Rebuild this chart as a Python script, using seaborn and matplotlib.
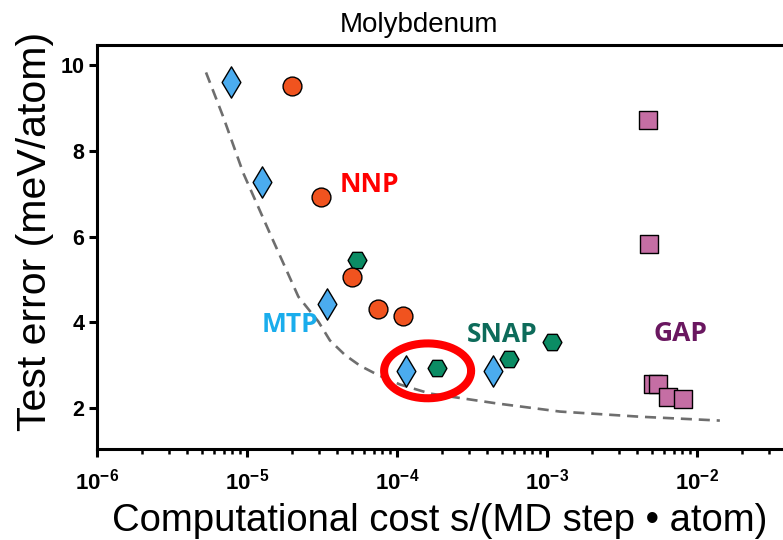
import numpy as np
import pandas as pd
import matplotlib
matplotlib.use("Agg")
import matplotlib.pyplot as plt
import seaborn as sns
from matplotlib.ticker import FixedLocator, FuncFormatter, LogLocator, NullFormatter

# ---------------- data ----------------
mtp_cost = [7.8e-6, 1.26e-5, 3.4e-5, 1.15e-4, 4.35e-4]
mtp_err = [9.60, 7.27, 4.43, 2.87, 2.87]

nnp_cost = [2.0e-5, 3.13e-5, 5.0e-5, 7.5e-5, 1.10e-4]
nnp_err = [9.51, 6.92, 5.07, 4.31, 4.15]

snap_cost = [5.43e-5, 1.84e-4, 5.58e-4, 1.08e-3]
snap_err = [5.45, 2.94, 3.14, 3.54]

gap_cost = [4.73e-3, 4.81e-3, 5.07e-3, 5.53e-3, 6.38e-3, 8.07e-3]
gap_err = [8.73, 5.83, 2.56, 2.56, 2.25, 2.21]

front_cost = [5.33e-6, 6.95e-6, 9.45e-6, 1.42e-5, 2.20e-5, 2.99e-5, 3.57e-5,
              4.5e-5, 5.67e-5, 7.5e-5, 1.05e-4, 1.66e-4, 4.62e-4, 1.22e-3,
              4.17e-3, 1.42e-2]
front_err = [9.83, 8.79, 7.48, 6.08, 4.60, 4.02, 3.58,
             3.24, 2.99, 2.77, 2.55, 2.34, 2.11, 1.92,
             1.80, 1.71]

method_names = ["NNP", "MTP", "SNAP", "GAP"]
label_cost = [6.5e-5, 1.94e-5, 5.0e-4, 7.8e-3]
label_err = [7.21, 3.94, 3.71, 3.73]

highlight_center = (1.6e-4, 2.87)   # (cost, error) of circled pair
highlight_half_decades = 0.29
highlight_half_err = 0.64

y_ticks = [2, 4, 6, 8, 10]
title = "Molybdenum"
x_label = "Computational cost s/(MD step \u2022 atom)"
y_label = "Test error (meV/atom)"

# ---------------- styling ----------------
sns.set_theme(style="white")
plt.rcParams["font.family"] = ["Liberation Sans", "DejaVu Sans"]
plt.rcParams["mathtext.fontset"] = "custom"
plt.rcParams["mathtext.bf"] = "Liberation Sans:bold"
plt.rcParams["mathtext.rm"] = "Liberation Sans:bold"
for key in ["text.color", "axes.labelcolor", "xtick.color", "ytick.color"]:
    plt.rcParams[key] = "black"

fill = {"MTP": "#4BACEF", "NNP": "#F0531F", "SNAP": "#0B8C64", "GAP": "#C56EA4"}
text_col = {"MTP": "#1AADEC", "NNP": "#FF0000", "SNAP": "#0D6B5A", "GAP": "#6A1760"}

W, H = 783, 540
fig = plt.figure(figsize=(W / 100, H / 100), dpi=100)
ax = fig.add_axes([97 / W, (H - 449.3) / H, (W - 97) / W, (449.3 - 45) / H])
ax.set_xscale("log")
ax.set_xlim(1e-6, 10 ** (-6 + 686 / 150))
ax.set_ylim(1.04, 10.47)

# dashed guide curve
front = pd.DataFrame({"cost": front_cost, "err": front_err})
sns.lineplot(data=front, x="cost", y="err", ax=ax, color="#6E6E6E",
             linewidth=1.9, linestyle=(0, (4.2, 2.6)), zorder=1)

# highlight ellipse
t = np.linspace(0, 2 * np.pi, 200)
ell_x = 10 ** (np.log10(highlight_center[0]) + highlight_half_decades * np.cos(t))
ell_y = highlight_center[1] + highlight_half_err * np.sin(t)
ax.plot(ell_x, ell_y, color="#FF0000", lw=5.8, zorder=2, solid_capstyle="round")

ms = 175
sns.scatterplot(x=snap_cost, y=snap_err, marker="H", s=ms * 1.05, color=fill["SNAP"],
                edgecolor="black", linewidth=1.0, ax=ax, zorder=3)
sns.scatterplot(x=nnp_cost, y=nnp_err, marker="o", s=ms * 1.05, color=fill["NNP"],
                edgecolor="black", linewidth=1.0, ax=ax, zorder=4)
sns.scatterplot(x=mtp_cost, y=mtp_err, marker="d", s=ms * 1.45, color=fill["MTP"],
                edgecolor="black", linewidth=1.0, ax=ax, zorder=4)
sns.scatterplot(x=gap_cost, y=gap_err, marker="s", s=ms * 1.0, color=fill["GAP"],
                edgecolor="black", linewidth=1.0, ax=ax, zorder=4)

for name, cx, cy in zip(method_names, label_cost, label_err):
    ax.text(cx, cy, name, color=text_col[name], fontsize=19, fontweight="bold",
            family=["Open Sans", "DejaVu Sans"], ha="center", va="center", zorder=5)

# axes cosmetics
for side in ["left", "bottom", "top"]:
    ax.spines[side].set_linewidth(2.2)
    ax.spines[side].set_color("black")
ax.spines["right"].set_visible(False)

ax.xaxis.set_major_locator(LogLocator(base=10, numticks=12))
ax.xaxis.set_minor_locator(LogLocator(base=10, subs=np.arange(2, 10), numticks=12))
ax.xaxis.set_minor_formatter(NullFormatter())
ax.xaxis.set_major_formatter(FuncFormatter(lambda v, p: r"$\mathbf{10^{%d}}$" % round(np.log10(v))))
ax.yaxis.set_major_locator(FixedLocator(y_ticks))
ax.tick_params(axis="x", which="major", direction="out", length=6, width=2.2,
               labelsize=16, pad=8, bottom=True, top=False)
ax.tick_params(axis="x", which="minor", direction="out", length=3.5, width=1.8,
               bottom=True, top=False)
ax.tick_params(axis="y", which="major", direction="out", length=6, width=2.2,
               labelsize=15.5, pad=3, left=True)
for lab in ax.get_yticklabels():
    lab.set_fontweight("bold")

ax.set_xlabel(x_label, fontsize=27.5)
ax.set_ylabel(y_label, fontsize=29.5)
ax.xaxis.set_label_coords(0.5, (449.3 - 503) / 404.3)
ax.yaxis.set_label_coords((54 - 97) / 686, 0.54)
ax.set_title(title, fontsize=20, x=0.47, pad=9.6)

fig.savefig("out.png", dpi=100)
